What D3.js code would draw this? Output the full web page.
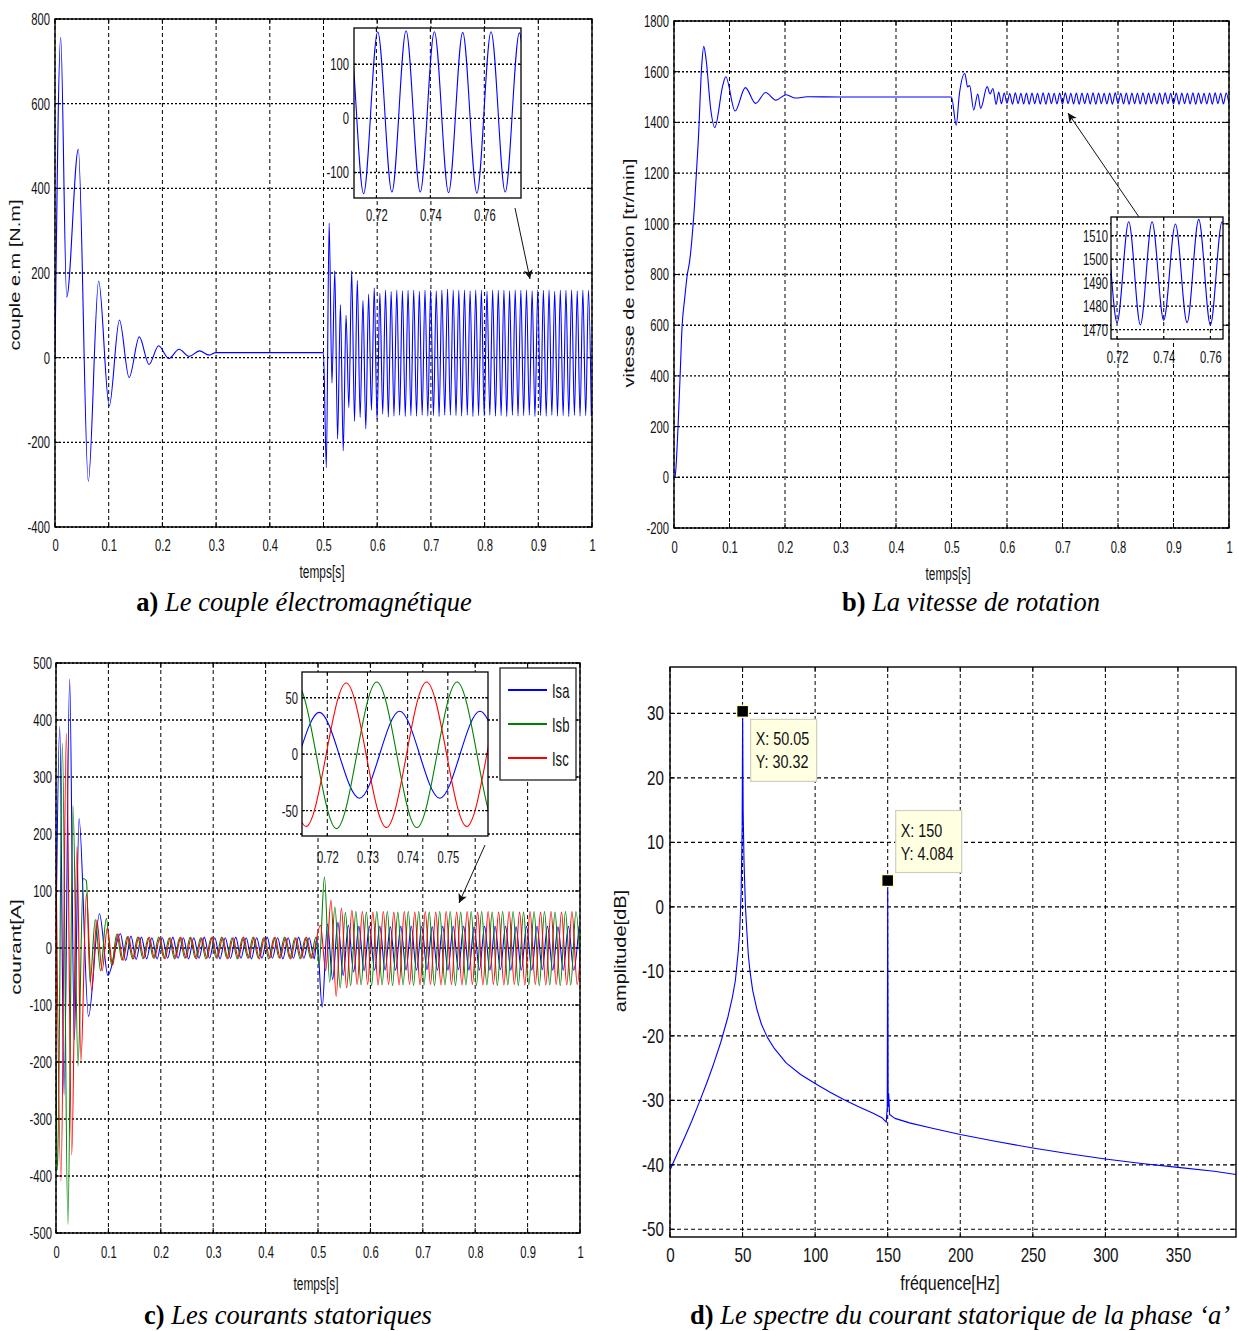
<!DOCTYPE html>
<html>
<head>
<meta charset="utf-8">
<script src="https://cdn.jsdelivr.net/npm/d3@7/dist/d3.min.js"></script>
<style>
  body { margin: 0; background: #fff; }
  svg { display: block; }
</style>
</head>
<body>
<svg id="fig" width="1239" height="1331"></svg>
<script>
// ---------- data ----------
const timeTicks = [0, 0.1, 0.2, 0.3, 0.4, 0.5, 0.6, 0.7, 0.8, 0.9, 1];

// a) couple electromagnetique [N.m]
const torqueTicks = [-400, -200, 0, 200, 400, 600, 800];
const torqueStart = [[0, 0], [0.0106, 757], [0.0218, 143], [0.0434, 492], [0.062, -292], [0.0813, 181],
  [0.101, -114], [0.12, 89], [0.138, -47], [0.157, 49], [0.175, -16], [0.193, 28], [0.212, -2],
  [0.231, 20], [0.25, 3], [0.269, 16], [0.287, 6], [0.3, 12]];
// extrema after the load step, one every half ripple period
const torqueRippleT0 = 0.5, torqueRippleDt = 0.00525;
const torqueRipple = [
  12, -260, 318, -60, 205, -192, 125, -220, 100, -118, 205, -150, 182, -141, 135, -168,
  150, -124, 165, -147, 152, -133, 160, -140, 156, -138, 160, -136, 158, -139, 159, -137,
  160, -138, 157, -136, 160, -138, 159, -137, 158, -139, 160, -136, 162, -136, 160, -137,
  159, -138, 160, -136, 158, -139, 160, -137, 159, -138, 157, -136, 160, -138, 159, -137,
  160, -139, 158, -136, 160, -138, 159, -137, 160, -136, 158, -139, 160, -137, 159, -138,
  160, -136, 157, -138, 160, -137, 159, -139, 160, -136, 158, -138, 160, -137, 159, -138];
const torqueInsetX = [0.72, 0.74, 0.76];
const torqueInsetY = [-100, 0, 100];

// b) vitesse de rotation [tr/min]
const speedTicks = [-200, 0, 200, 400, 600, 800, 1000, 1200, 1400, 1600, 1800];
const speedStart = [[0, 0], [0.002, 5], [0.0073, 200], [0.011, 400], [0.0147, 600], [0.019, 700],
  [0.024, 800], [0.028, 850], [0.037, 1074], [0.044, 1337], [0.05, 1626], [0.0536, 1700],
  [0.058, 1645], [0.066, 1455], [0.0735, 1380], [0.088, 1547], [0.0933, 1580], [0.11, 1445],
  [0.1286, 1537], [0.147, 1475], [0.165, 1518], [0.1837, 1488], [0.202, 1509], [0.219, 1496],
  [0.24, 1501], [0.3, 1500]];
const speedStep = [[0.5, 1500], [0.5085, 1389], [0.514, 1508], [0.524, 1593], [0.529, 1540],
  [0.5327, 1545], [0.54, 1449], [0.5474, 1512], [0.5525, 1455], [0.5643, 1541], [0.5694, 1512],
  [0.5746, 1534], [0.5805, 1471], [0.585, 1520]];
const speedRippleT0 = 0.59, speedRippleDt = 0.005;
const speedRipple = [
  1474, 1516, 1476, 1514, 1472, 1517, 1474, 1515, 1473, 1516, 1472, 1516, 1474, 1515, 1473, 1517,
  1472, 1516, 1474, 1515, 1473, 1516, 1472, 1517, 1474, 1515, 1473, 1516, 1472, 1516, 1474, 1515,
  1473, 1517, 1472, 1516, 1474, 1515, 1473, 1516, 1472, 1517, 1474, 1515, 1473, 1516, 1472, 1516,
  1474, 1515, 1473, 1517, 1472, 1516, 1474, 1515, 1473, 1516, 1472, 1517, 1474, 1515, 1473, 1516,
  1472, 1516, 1474, 1515, 1473, 1517, 1472, 1516, 1474, 1515, 1473, 1516, 1472, 1517, 1474, 1515,
  1473, 1516, 1472];
const speedInsetX = [0.72, 0.74, 0.76];
const speedInsetY = [1470, 1480, 1490, 1500, 1510];

// c) courants statoriques [A]
const currentTicks = [-500, -400, -300, -200, -100, 0, 100, 200, 300, 400, 500];
const phaseNames = ['Isa', 'Isb', 'Isc'];
const isaStart = [[0, 20], [0.0071, 389], [0.0154, -258], [0.0261, 472], [0.035, -161], [0.044, 227],
  [0.062, -120], [0.083, 60], [0.099, -48]];
const isbStart = [[0, -200], [0.003, -390], [0.0122, 359], [0.0227, -485], [0.0325, 250], [0.042, -207],
  [0.052, 122], [0.058, 118], [0.065, -60], [0.075, 50], [0.085, -40], [0.096, 52]];
const iscStart = [[0, 172], [0.0095, -409], [0.0198, 377], [0.03, -363], [0.04, 177], [0.0475, -199],
  [0.058, 95], [0.068, -75], [0.078, 49], [0.088, -40], [0.098, 35]];
const halfPeriod = 0.01;
const noLoadT0 = [0.123, 0.106, 0.108];
const isaNoLoad = [25, -22, 21, -20, 19, -19, 18, -19, 18, -18, 19, -18, 18, -19, 18, -18, 19, -18, 18, -19,
  18, -18, 19, -18, 18, -19, 18, -18, 19, -18, 18, -19, 18, -18, 19, -18, 18, -19];
const isbNoLoad = [-30, 24, -21, 20, -19, 19, -19, 18, -18, 19, -18, 18, -19, 18, -18, 19, -18, 18, -19, 18,
  -18, 19, -18, 18, -19, 18, -18, 19, -18, 18, -19, 18, -18, 19, -18, 18, -19, 18, -18, 19];
const iscNoLoad = [-30, 25, -22, 20, -19, 19, -18, 19, -18, 18, -19, 18, -18, 19, -18, 18, -19, 18, -18, 19,
  -18, 18, -19, 18, -18, 19, -18, 18, -19, 18, -18, 19, -18, 18, -19, 18, -18, 19, -18];
const loadT0 = [0.498, 0.5023, 0.5047];
const isaLoad = [18, -104, 42, -55, 45, -48, 40, -42, 38, -40, 38, -39, 38, -39, 37, -39, 38, -39, 38, -39,
  38, -38, 37, -39, 38, -39, 38, -38, 38, -39, 37, -39, 38, -39, 38, -38, 38, -39, 37, -39,
  38, -39, 38, -38, 38, -39, 37, -39, 38, -39, 38];
const isbLoad = [-30, 125, -60, 72, -70, 62, -66, 64, -65, 63, -66, 64, -65, 64, -66, 63, -65, 64, -66, 64,
  -65, 63, -66, 64, -65, 64, -66, 63, -65, 64, -66, 64, -65, 63, -66, 64, -65, 64, -66, 63,
  -65, 64, -66, 64, -65, 63, -66, 64, -65, 64, -66];
const iscLoad = [40, -40, 84, -85, 70, -70, 66, -64, 64, -64, 63, -65, 64, -64, 63, -65, 64, -64, 63, -65,
  64, -64, 63, -65, 64, -64, 63, -65, 64, -64, 63, -65, 64, -64, 63, -65, 64, -64, 63, -65,
  64, -64, 63, -65, 64, -64, 63, -65, 64, -64, 63];
const currentInsetX = [0.72, 0.73, 0.74, 0.75];
const currentInsetY = [-50, 0, 50];

// d) spectre du courant statorique, phase a
const freqTicks = [0, 50, 100, 150, 200, 250, 300, 350];
const dbTicks = [-50, -40, -30, -20, -10, 0, 10, 20, 30];
const specF = [0, 5, 10, 15, 20, 25, 30, 35, 40, 43, 45, 47, 48, 49, 49.7, 50.05, 50.4, 51, 52, 53,
  54, 55, 57, 60, 63, 67, 72, 80, 90, 100, 110, 120, 130, 140, 146, 149, 149.7, 150, 150.3, 150.7,
  151.3, 155, 165, 180, 200, 225, 250, 275, 300, 325, 350, 375, 390];
const specDb = [-40.8, -38.3, -35.8, -33.2, -30.4, -27.5, -24.4, -21, -17, -14, -11.5, -7, -4, 2, 12, 30.32, 15, 7, 0, -4,
  -7.5, -9.8, -13, -16, -18.2, -20.2, -22, -24.2, -26, -27.4, -28.7, -29.9, -31, -32, -32.7, -33.4, -31, 4.084, -31, -29,
  -32.2, -32.8, -33.5, -34.3, -35.3, -36.4, -37.4, -38.3, -39.1, -39.8, -40.4, -41, -41.5];
const tipF = [50.05, 150];
const tipDb = [30.32, 4.084];

// ---------- drawing ----------
const SANS = '"Liberation Sans", Arial, sans-serif';
const SERIF = '"Liberation Serif", "Times New Roman", serif';
const BLUE = '#0000ff', GREEN = '#008000', RED = '#ff0000';

const svg = d3.select('#fig');
svg.append('rect').attr('width', 1239).attr('height', 1331).attr('fill', '#fff');

svg.append('defs').append('marker')
  .attr('id', 'head').attr('viewBox', '0 0 10 10').attr('refX', 10).attr('refY', 5)
  .attr('markerUnits', 'userSpaceOnUse').attr('markerWidth', 15).attr('markerHeight', 9)
  .attr('orient', 'auto')
  .append('path').attr('d', 'M0,0 L10,5 L0,10 L2.5,5 Z').attr('fill', '#111');

let clipCount = 0;

function grid(t0, dt, vals) {
  return vals.map((v, i) => [t0 + i * dt, v]);
}

// the scanned figure is horizontally compressed, so text is squeezed the same way
function squeeze(sel, k) {
  sel.each(function () {
    const t = d3.select(this);
    t.attr('x', (+t.attr('x') || 0) / k).attr('transform', `scale(${k},1)`);
  });
}

function axes(c) {
  const g = svg.append('g').attr('transform', `translate(${c.left},${c.top})`);
  const x = d3.scaleLinear().domain(c.xDomain).range([0, c.width]);
  const y = d3.scaleLinear().domain(c.yDomain).range([c.height, 0]);

  g.append('rect').attr('width', c.width).attr('height', c.height).attr('fill', '#fff');

  g.append('g').selectAll('line').data(c.xTicks).join('line')
    .attr('x1', d => x(d)).attr('x2', d => x(d)).attr('y1', 0).attr('y2', c.height)
    .attr('stroke', '#000').attr('stroke-width', 1).attr('stroke-dasharray', c.vDash);
  g.append('g').selectAll('line').data(c.yTicks).join('line')
    .attr('y1', d => y(d)).attr('y2', d => y(d)).attr('x1', 0).attr('x2', c.width)
    .attr('stroke', '#000').attr('stroke-width', c.hWidth).attr('stroke-dasharray', c.hDash);

  const id = 'clip' + (clipCount++);
  g.append('clipPath').attr('id', id).append('rect').attr('width', c.width).attr('height', c.height);
  const plot = g.append('g').attr('clip-path', `url(#${id})`);

  const xa = g.append('g').attr('transform', `translate(0,${c.height})`)
    .call(d3.axisBottom(x).tickValues(c.xTicks).tickSize(0).tickPadding(c.xPad).tickFormat(String));
  const ya = g.append('g')
    .call(d3.axisLeft(y).tickValues(c.yTicks).tickSize(0).tickPadding(c.yPad).tickFormat(String));
  [xa, ya].forEach(a => {
    a.select('.domain').remove();
    a.attr('font-family', SANS).attr('font-size', c.font);
    a.selectAll('text').attr('fill', '#111');
    squeeze(a.selectAll('text'), c.squeeze);
  });
  return { g, x, y, plot, c };
}

function frame(ax) {
  const { g, x, y, c } = ax;
  const t = c.tick || 5;
  const tk = g.append('g').attr('stroke', '#000').attr('stroke-width', 1);
  tk.selectAll('.xt').data(c.xTicks).join('path').attr('class', 'xt')
    .attr('d', d => `M${x(d)},${c.height}v${-t}M${x(d)},0v${t}`);
  tk.selectAll('.yt').data(c.yTicks).join('path').attr('class', 'yt')
    .attr('d', d => `M0,${y(d)}h${t}M${c.width},${y(d)}h${-t}`);
  g.append('rect').attr('width', c.width).attr('height', c.height)
    .attr('fill', 'none').attr('stroke', '#000').attr('stroke-width', c.frameW || 1.4);
}

function trace(ax, pts, color, curve) {
  ax.plot.append('path').datum(pts)
    .attr('fill', 'none').attr('stroke', color).attr('stroke-width', 1.1)
    .attr('stroke-linejoin', 'round')
    .attr('d', d3.line().x(d => ax.x(d[0])).y(d => ax.y(d[1])).curve(curve || d3.curveMonotoneX));
}

function hLabel(x, y, text, size, k) {
  svg.append('text').attr('transform', `translate(${x},${y}) scale(${k},1)`)
    .attr('text-anchor', 'middle').attr('font-family', SANS).attr('font-size', size)
    .attr('fill', '#111').text(text);
}

function vLabel(x, y, text, size, k) {
  svg.append('text').attr('transform', `translate(${x},${y}) rotate(-90) scale(1,${k})`)
    .attr('text-anchor', 'middle').attr('font-family', SANS).attr('font-size', size)
    .attr('fill', '#111').text(text);
}

function caption(cx, y, tag, rest) {
  const t = svg.append('text').attr('x', cx).attr('y', y).attr('text-anchor', 'middle')
    .attr('font-family', SERIF).attr('font-size', 26.5).attr('fill', '#000');
  t.append('tspan').attr('font-weight', 'bold').text(tag);
  t.append('tspan').attr('font-style', 'italic').text(' ' + rest);
}

function arrow(x1, y1, x2, y2) {
  svg.append('line').attr('x1', x1).attr('y1', y1).attr('x2', x2).attr('y2', y2)
    .attr('stroke', '#111').attr('stroke-width', 1).attr('marker-end', 'url(#head)');
}

const mainStyle = { vDash: '4,3', hDash: '2,2', hWidth: 1.4, font: 17, squeeze: 0.66 };
const insetStyle = { vDash: '4,3', hDash: '2,2', hWidth: 1.4, font: 17, squeeze: 0.66, tick: 3, frameW: 1.3 };

// ----- a) torque -----
const torque = torqueStart.concat(grid(torqueRippleT0, torqueRippleDt, torqueRipple));
const axA = axes({ ...mainStyle, left: 55, top: 19, width: 537, height: 508,
  xDomain: [0, 1], yDomain: [-400, 800], xTicks: timeTicks, yTicks: torqueTicks, xPad: 12, yPad: 5 });
trace(axA, torque, BLUE);
frame(axA);
arrow(515, 208, 530, 279);
const inA = axes({ ...insetStyle, left: 354, top: 28, width: 167, height: 170,
  xDomain: [0.7117, 0.7736], yDomain: [-147, 167], xTicks: torqueInsetX, yTicks: torqueInsetY, xPad: 11, yPad: 5 });
trace(inA, torque, BLUE);
frame(inA);
hLabel(322, 578, 'temps[s]', 18, 0.66);
vLabel(20, 275, 'couple e.m [N.m]', 20, 0.7);
caption(304, 611, 'a)', 'Le couple électromagnétique');

// ----- b) speed -----
const speed = speedStart.concat(speedStep, grid(speedRippleT0, speedRippleDt, speedRipple));
const axB = axes({ ...mainStyle, left: 674, top: 21, width: 555, height: 507,
  xDomain: [0, 1], yDomain: [-200, 1800], xTicks: timeTicks, yTicks: speedTicks, xPad: 13, yPad: 5 });
trace(axB, speed, BLUE);
frame(axB);
arrow(1139, 217, 1068, 113);
const inB = axes({ ...insetStyle, left: 1111, top: 217, width: 112, height: 122,
  xDomain: [0.7174, 0.7654], yDomain: [1466, 1518], xTicks: speedInsetX, yTicks: speedInsetY, xPad: 12, yPad: 3 });
trace(inB, speed, BLUE);
frame(inB);
hLabel(948, 580, 'temps[s]', 18, 0.66);
vLabel(634, 273, 'vitesse de rotation [tr/min]', 20, 0.7);
caption(971, 611, 'b)', 'La vitesse de rotation');

// ----- c) stator currents -----
const phases = [
  { pts: isaStart.concat(grid(noLoadT0[0], halfPeriod, isaNoLoad), grid(loadT0[0], halfPeriod, isaLoad)), color: BLUE },
  { pts: isbStart.concat(grid(noLoadT0[1], halfPeriod, isbNoLoad), grid(loadT0[1], halfPeriod, isbLoad)), color: GREEN },
  { pts: iscStart.concat(grid(noLoadT0[2], halfPeriod, iscNoLoad), grid(loadT0[2], halfPeriod, iscLoad)), color: RED }
];
const axC = axes({ ...mainStyle, left: 56, top: 663, width: 524, height: 570,
  xDomain: [0, 1], yDomain: [-500, 500], xTicks: timeTicks, yTicks: currentTicks, xPad: 13, yPad: 4 });
phases.forEach(p => trace(axC, p.pts, p.color));
frame(axC);
arrow(485, 845, 459, 903);
const inC = axes({ ...insetStyle, left: 302, top: 672, width: 186, height: 164,
  xDomain: [0.7137, 0.76], yDomain: [-72.5, 72.8], xTicks: currentInsetX, yTicks: currentInsetY, xPad: 15, yPad: 4 });
phases.forEach(p => trace(inC, p.pts, p.color));
frame(inC);

const lg = svg.append('g').attr('transform', 'translate(500,668)');
lg.append('rect').attr('width', 76).attr('height', 112).attr('fill', '#fff')
  .attr('stroke', '#222').attr('stroke-width', 1.3);
const lgRow = d3.scalePoint().domain(phaseNames).range([22, 90]);
phaseNames.forEach((n, i) => {
  lg.append('line').attr('x1', 8).attr('x2', 47).attr('y1', lgRow(n)).attr('y2', lgRow(n))
    .attr('stroke', phases[i].color).attr('stroke-width', 1.8);
  lg.append('text').attr('transform', `translate(52,${lgRow(n) + 8}) scale(0.62,1)`)
    .attr('font-family', SANS).attr('font-size', 21).attr('fill', '#111').text(n);
});
hLabel(316, 1290, 'temps[s]', 18, 0.66);
vLabel(21, 947, 'courant[A]', 21, 0.7);
caption(288, 1324, 'c)', 'Les courants statoriques');

// ----- d) spectrum -----
const axD = axes({ vDash: '4,3', hDash: '4,3', hWidth: 1.2, font: 20, squeeze: 0.76,
  left: 670, top: 667, width: 566, height: 570,
  xDomain: [0, 390], yDomain: [-51.2, 37.2], xTicks: freqTicks, yTicks: dbTicks, xPad: 11, yPad: 6 });
trace(axD, specF.map((f, i) => [f, specDb[i]]), BLUE, d3.curveLinear);
frame(axD);

const tipLayout = [{ dx: 8, dy: 8 }, { dx: 8, dy: -70 }];
tipF.forEach((f, i) => {
  const px = axD.x(f), py = axD.y(tipDb[i]);
  const tip = axD.g.append('g');
  tip.append('rect').attr('x', px - 6).attr('y', py - 6).attr('width', 12).attr('height', 12)
    .attr('fill', '#000').attr('stroke', '#ffffcc').attr('stroke-width', 1.5);
  const bx = px + tipLayout[i].dx, by = py + tipLayout[i].dy;
  tip.append('rect').attr('x', bx).attr('y', by).attr('width', 66).attr('height', 62)
    .attr('fill', '#ffffe1').attr('stroke', '#cfcfbe').attr('stroke-width', 1.2);
  [`X: ${f}`, `Y: ${tipDb[i]}`].forEach((s, j) => {
    tip.append('text').attr('transform', `translate(${bx + 5},${by + 26 + j * 23}) scale(0.8,1)`)
      .attr('font-family', SANS).attr('font-size', 18).attr('fill', '#111').text(s);
  });
});
hLabel(950, 1290, 'fréquence[Hz]', 20, 0.8);
vLabel(626, 951, 'amplitude[dB]', 20, 0.8);
caption(960, 1324, 'd)', 'Le spectre du courant statorique de la phase ‘a’');
</script>
</body>
</html>
